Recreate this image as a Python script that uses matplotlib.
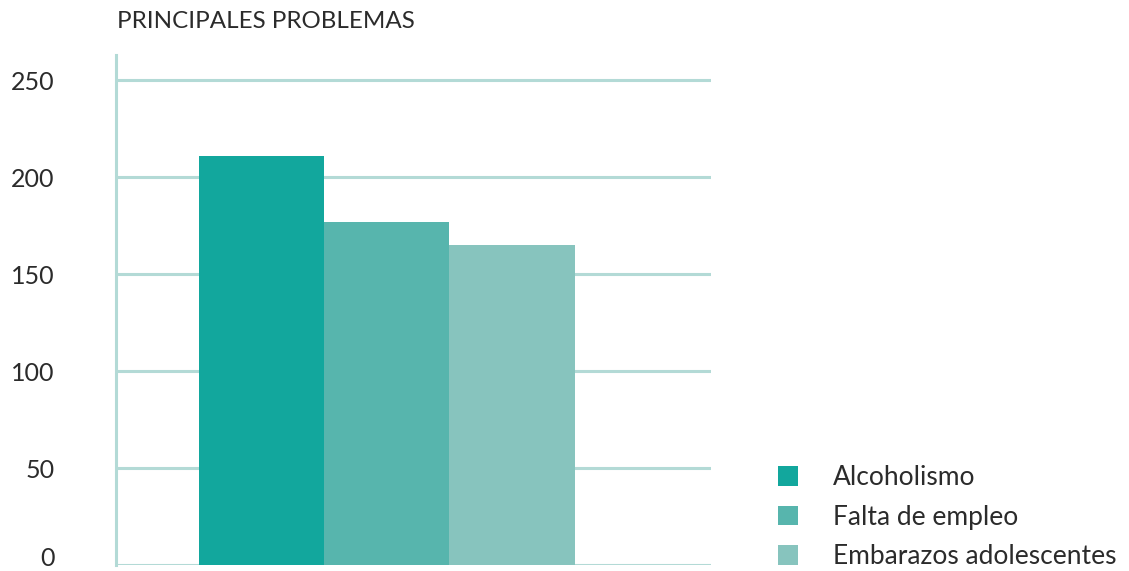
import matplotlib.pyplot as plt
import matplotlib.transforms as mtransforms

# data
problems = ['Alcoholismo', 'Falta de empleo', 'Embarazos adolescentes']
counts = [211, 177, 165]
colors = ['#12a79d', '#57b5ad', '#87c4be']
yticks = [0, 50, 100, 150, 200, 250]

plt.rcParams['font.family'] = ['Lato', 'DejaVu Sans']
text_color = '#2b2b2b'
grid_color = '#b3dad6'

fig = plt.figure(figsize=(11.29, 5.71), dpi=100)
ax = fig.add_axes([0.1027, 0.0105, 0.527, 0.893])

width = 0.211
positions = [0.2445, 0.4546, 0.6655]
bars = []
for x, h, c, name in zip(positions, counts, colors, problems):
    bars.append(ax.bar(x, h, width=width, color=c, label=name, zorder=3))

ax.set_xlim(0, 1)
ax.set_ylim(0, 263)
ax.set_yticks(yticks)
ax.set_xticks([])
ax.yaxis.grid(True, color=grid_color, linewidth=2.2, zorder=0)
ax.tick_params(axis='y', length=0, pad=44, labelsize=18, labelcolor=text_color)
labels = ax.get_yticklabels()
for t in labels:
    t.set_horizontalalignment('right')
# the "0" sits a little above the base line so it is not cut off
shift = mtransforms.ScaledTranslation(0, 6 / 72, fig.dpi_scale_trans)
labels[0].set_transform(labels[0].get_transform() + shift)

for s in ['top', 'right', 'bottom']:
    ax.spines[s].set_visible(False)
ax.spines['left'].set_color(grid_color)
ax.spines['left'].set_linewidth(2.2)

fig.text(0.1036, 0.963, 'PRINCIPALES PROBLEMAS', fontsize=17.4, color=text_color,
         ha='left', va='center')

fig.legend(handles=bars, labels=problems, loc='upper left',
           bbox_to_anchor=(0.668, 0.227), frameon=False, fontsize=19,
           handlelength=0.76, handleheight=0.76, handletextpad=1.33,
           labelspacing=0.55, labelcolor=text_color)

fig.savefig('out.png', dpi=100)
